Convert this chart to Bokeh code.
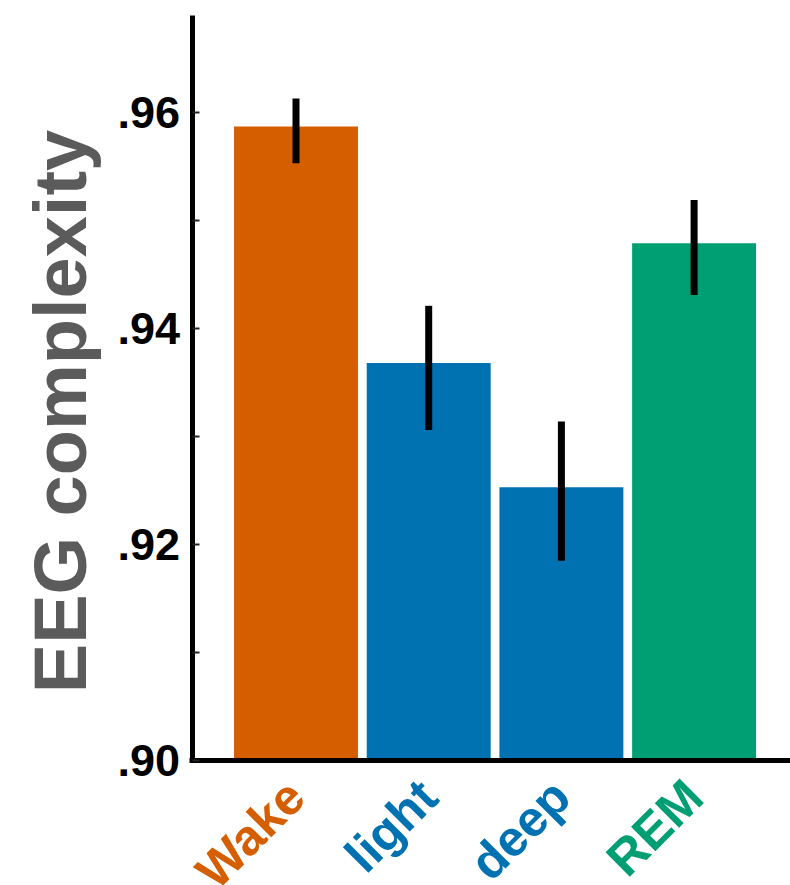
from math import pi

from bokeh.core.properties import value
from bokeh.embed import file_html
from bokeh.models import ColumnDataSource, CustomJSTickFormatter, FixedTicker, Range1d
from bokeh.plotting import figure
from bokeh.resources import INLINE

# Mean EEG complexity per vigilance state, with error-bar limits
stages = ["Wake", "light", "deep", "REM"]
complexity = [0.9587, 0.9368, 0.9253, 0.9479]
err_low = [0.9553, 0.9306, 0.9185, 0.9431]
err_high = [0.9613, 0.9421, 0.9314, 0.9519]

y_ticks = [0.90, 0.92, 0.94, 0.96]
y_minor_ticks = [0.91, 0.93, 0.95]

stage_colors = ["#D55E00", "#0072B2", "#0072B2", "#009E73"]

FONT = "Liberation Sans"
W, H = 790, 885

# The frame fills the whole canvas; axes sit at fixed data locations.
X_PX = 132.7            # px per category step
Y_PX = 10800.0          # px per unit of complexity
X0_PX, Y0_PX = 295.5, 760.0   # canvas position of (x=0, y=0.90)
Y_BASE, Y_TOP = 0.90, 0.969


def cx(px):
    """canvas x pixel -> data x"""
    return (px - X0_PX) / X_PX


def cy(py):
    """canvas y pixel -> data y"""
    return Y_BASE + (Y0_PX - py) / Y_PX


pos = list(range(len(stages)))
src = ColumnDataSource(dict(x=pos, top=complexity, lo=err_low, hi=err_high,
                            color=stage_colors, name=stages))

p = figure(
    width=W, height=H,
    output_backend="svg", toolbar_location=None,
    x_range=Range1d(cx(0), cx(W)), y_range=Range1d(cy(H), cy(0)),
    min_border=0, min_border_left=0, min_border_right=0,
    min_border_top=0, min_border_bottom=0,
)
p.outline_line_color = None
p.grid.visible = False
p.background_fill_color = "white"
p.border_fill_color = "white"

# bars and error bars
p.vbar(x="x", top="top", bottom=Y_BASE, width=0.934, fill_color="color",
       line_color=None, source=src)
p.segment(x0="x", y0="lo", x1="x", y1="hi", line_width=7, line_color="black",
          line_cap="butt", source=src)

axis_x = cx(191.5)

# y axis
ya = p.yaxis[0]
ya.fixed_location = axis_x
ya.bounds = (Y_BASE, Y_TOP)
ya.ticker = FixedTicker(ticks=y_ticks, minor_ticks=y_minor_ticks)
ya.formatter = CustomJSTickFormatter(code="return tick.toFixed(2).replace(/^0/, '');")
ya.axis_line_width = 5
ya.axis_line_color = "black"
ya.major_tick_in = 7
ya.major_tick_out = 0
ya.minor_tick_in = 7
ya.minor_tick_out = 0
ya.major_tick_line_width = 2
ya.minor_tick_line_width = 2
ya.major_tick_line_color = "#222222"
ya.minor_tick_line_color = "#222222"
ya.major_label_text_font = FONT
ya.major_label_text_font_style = "bold"
ya.major_label_text_font_size = "45px"
ya.major_label_text_color = "black"
ya.major_label_standoff = 12

# x axis: just the baseline at .90
xa = p.xaxis[0]
xa.fixed_location = Y_BASE
xa.bounds = (cx(189), cx(W))
xa.ticker = FixedTicker(ticks=[])
xa.major_label_text_font_size = "0px"
xa.axis_line_width = 5
xa.axis_line_color = "black"
xa.major_tick_line_color = None
xa.minor_tick_line_color = None

# y-axis title
p.text(x=[cx(60)], y=[cy(411)], text=["EEG complexity"], angle=pi / 2,
       text_align="center", text_baseline="alphabetic",
       text_font=value(FONT), text_font_style="bold", text_font_size="74px",
       text_color="#5b5b5b")

# rotated, coloured stage names under the bars
p.text(x="x", y=cy(788), text="name", source=src, x_offset=0, angle=pi / 4,
       text_align="right", text_baseline="alphabetic",
       text_font=value(FONT), text_font_style="bold", text_font_size="50px",
       text_color="color")

open("out.html", "w").write(file_html(p, INLINE))
